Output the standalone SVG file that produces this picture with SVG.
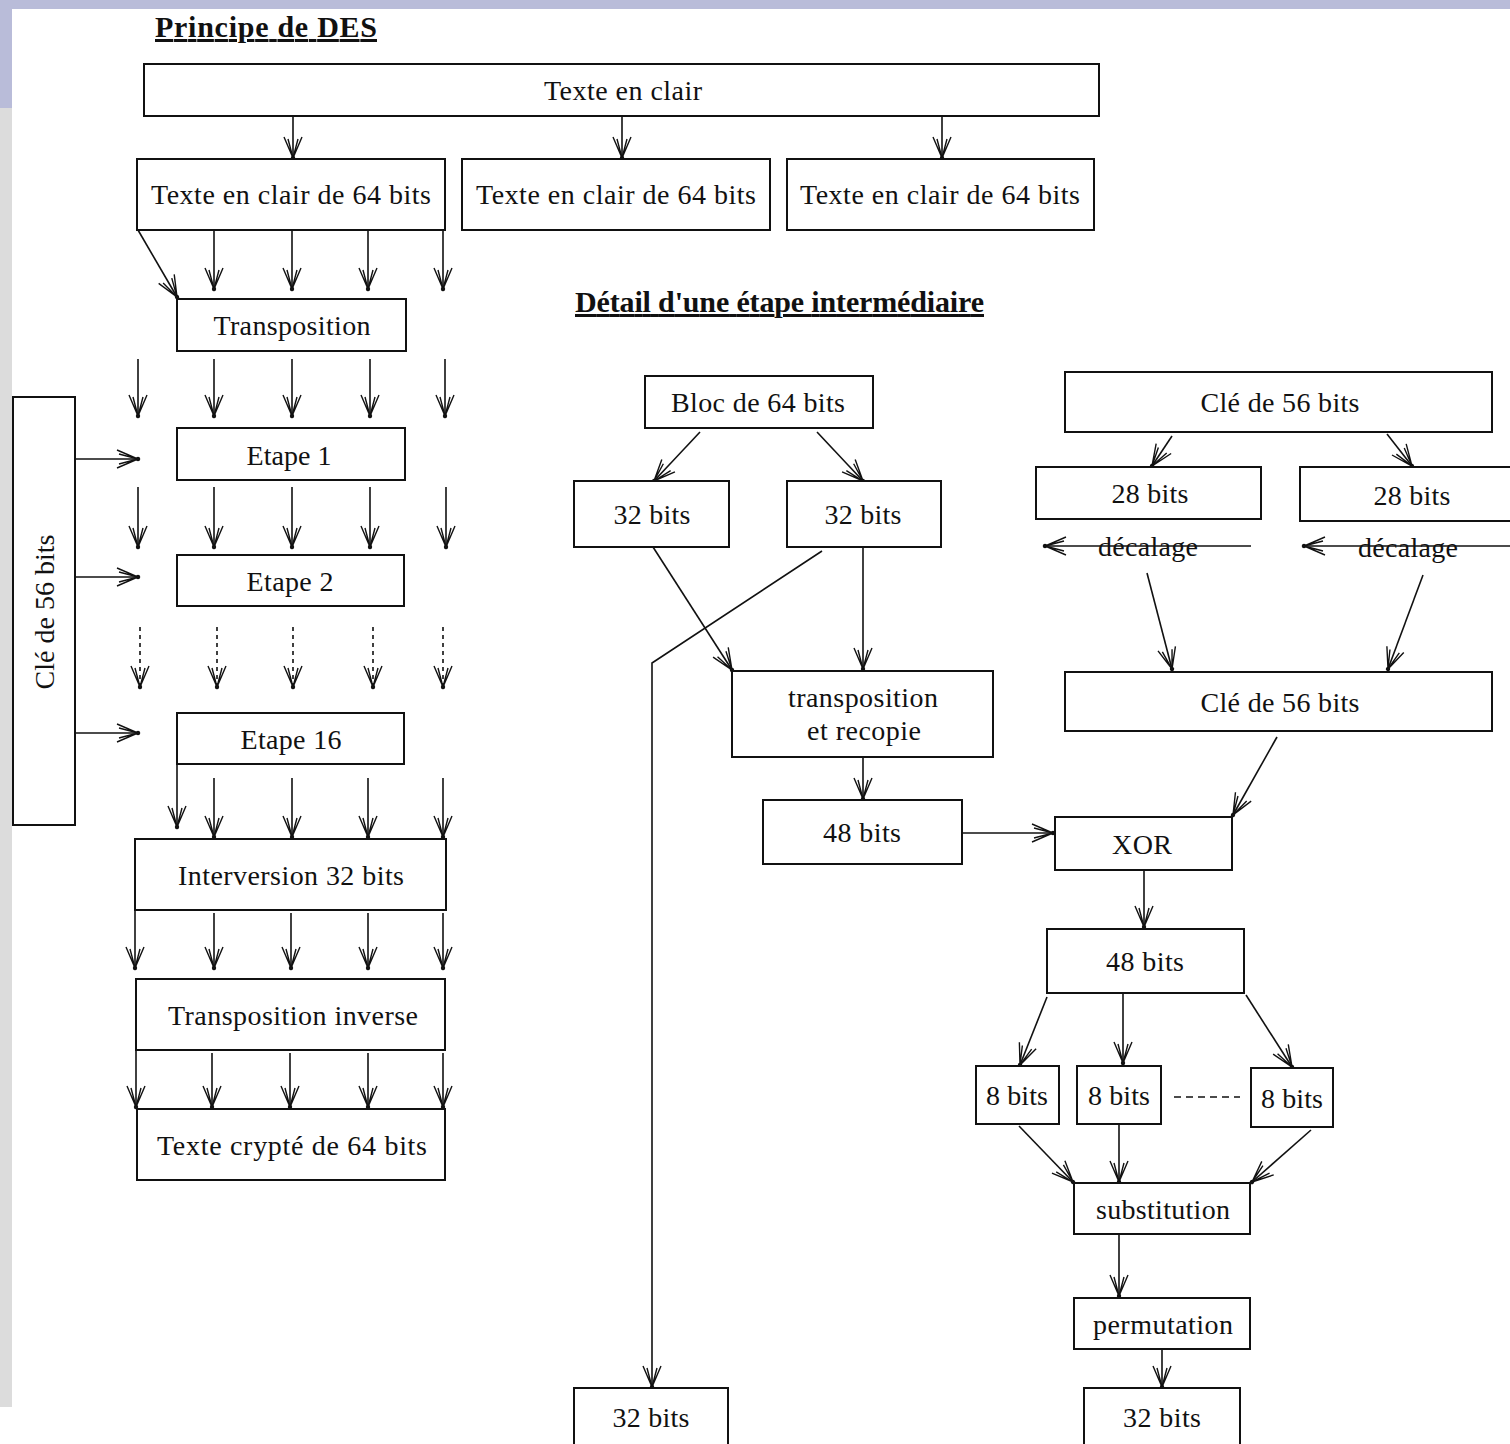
<svg xmlns="http://www.w3.org/2000/svg" width="1510" height="1444" viewBox="0 0 1510 1444">
<defs>
<style>
.bx{fill:#fff;stroke:#111;stroke-width:2}
.t{font-family:"Liberation Serif","Times New Roman",serif;font-size:28px;fill:#111;text-anchor:middle}
.h{font-family:"Liberation Serif","Times New Roman",serif;font-size:30px;font-weight:bold;fill:#111;text-decoration:underline}
.c line,.c path{stroke:#111;stroke-width:1.6;fill:none}
.c .m{marker-end:url(#a)}
.c .d{stroke-dasharray:4 4}
.c .d2{stroke-dasharray:7 5}
</style>
<marker id="a" viewBox="-24 -12 27 24" refX="0" refY="0" markerWidth="27" markerHeight="24" markerUnits="userSpaceOnUse" orient="auto">
<path d="M-21,-9 L0,0 L-21,9 M-19,-5 L0,0 L-19,5" fill="none" stroke="#111" stroke-width="1.4"/>
<circle r="2.2" fill="#111"/>
</marker>
</defs>
<rect x="0" y="0" width="1510" height="1444" fill="#fff"/>
<rect x="0" y="0" width="1510" height="9" fill="#b9bcd9"/>
<rect x="0" y="9" width="12" height="99" fill="#b9bcd9"/>
<rect x="0" y="108" width="12" height="1299" fill="#dcdcdc"/>

<text class="h" x="155" y="37" textLength="222">Principe de DES</text>
<text class="h" x="575" y="312" textLength="409">Détail d'une étape intermédiaire</text>

<g class="c">
<line class="m" x1="293" y1="116" x2="293" y2="158"/>
<line class="m" x1="622" y1="116" x2="622" y2="158"/>
<line class="m" x1="942" y1="116" x2="942" y2="158"/>
<line class="m" x1="138" y1="230" x2="177" y2="297"/>
<line class="m" x1="214" y1="230" x2="214" y2="289"/>
<line class="m" x1="292" y1="230" x2="292" y2="289"/>
<line class="m" x1="368" y1="230" x2="368" y2="289"/>
<line class="m" x1="443" y1="230" x2="443" y2="289"/>
<line class="m" x1="138" y1="359" x2="138" y2="416"/>
<line class="m" x1="214" y1="359" x2="214" y2="416"/>
<line class="m" x1="292" y1="359" x2="292" y2="416"/>
<line class="m" x1="370" y1="359" x2="370" y2="416"/>
<line class="m" x1="445" y1="359" x2="445" y2="416"/>
<line class="m" x1="138" y1="487" x2="138" y2="547"/>
<line class="m" x1="214" y1="487" x2="214" y2="547"/>
<line class="m" x1="292" y1="487" x2="292" y2="547"/>
<line class="m" x1="370" y1="487" x2="370" y2="547"/>
<line class="m" x1="446" y1="487" x2="446" y2="547"/>
<line class="m d" x1="140" y1="627" x2="140" y2="687"/>
<line class="m d" x1="217" y1="627" x2="217" y2="687"/>
<line class="m d" x1="293" y1="627" x2="293" y2="687"/>
<line class="m d" x1="373" y1="627" x2="373" y2="687"/>
<line class="m d" x1="443" y1="627" x2="443" y2="687"/>
<line class="m" x1="177" y1="764" x2="177" y2="827"/>
<line class="m" x1="214" y1="778" x2="214" y2="837"/>
<line class="m" x1="292" y1="778" x2="292" y2="837"/>
<line class="m" x1="368" y1="778" x2="368" y2="837"/>
<line class="m" x1="443" y1="778" x2="443" y2="837"/>
<line class="m" x1="135" y1="910" x2="135" y2="968"/>
<line class="m" x1="214" y1="913" x2="214" y2="968"/>
<line class="m" x1="291" y1="913" x2="291" y2="968"/>
<line class="m" x1="368" y1="913" x2="368" y2="968"/>
<line class="m" x1="443" y1="913" x2="443" y2="968"/>
<line class="m" x1="136" y1="1050" x2="136" y2="1107"/>
<line class="m" x1="212" y1="1053" x2="212" y2="1107"/>
<line class="m" x1="290" y1="1053" x2="290" y2="1107"/>
<line class="m" x1="368" y1="1053" x2="368" y2="1107"/>
<line class="m" x1="443" y1="1053" x2="443" y2="1107"/>
<line class="m" x1="75" y1="459" x2="138" y2="459"/>
<line class="m" x1="75" y1="577" x2="138" y2="577"/>
<line class="m" x1="75" y1="733" x2="138" y2="733"/>

<line class="m" x1="700" y1="432" x2="654" y2="481"/>
<line class="m" x1="817" y1="432" x2="863" y2="481"/>
<line class="m" x1="653" y1="547" x2="732" y2="670"/>
<line class="m" x1="863" y1="547" x2="863" y2="669"/>
<path class="m" d="M822,551 L652,663 L652,1387"/>
<line class="m" x1="863" y1="757" x2="863" y2="799"/>
<line class="m" x1="962" y1="833" x2="1053" y2="833"/>
<line class="m" x1="1172" y1="436" x2="1152" y2="466"/>
<line class="m" x1="1387" y1="434" x2="1412" y2="466"/>
<line class="m" x1="1251" y1="546" x2="1045" y2="546"/>
<line class="m" x1="1510" y1="546" x2="1304" y2="546"/>
<line class="m" x1="1147" y1="573" x2="1172" y2="669"/>
<line class="m" x1="1423" y1="575" x2="1388" y2="669"/>
<line class="m" x1="1277" y1="737" x2="1233" y2="815"/>
<line class="m" x1="1144" y1="870" x2="1144" y2="927"/>
<line class="m" x1="1047" y1="997" x2="1020" y2="1065"/>
<line class="m" x1="1123" y1="993" x2="1123" y2="1063"/>
<line class="m" x1="1246" y1="995" x2="1292" y2="1067"/>
<line class="d2" x1="1174" y1="1097" x2="1240" y2="1097"/>
<line class="m" x1="1019" y1="1126" x2="1073" y2="1182"/>
<line class="m" x1="1119" y1="1124" x2="1119" y2="1182"/>
<line class="m" x1="1311" y1="1130" x2="1252" y2="1182"/>
<line class="m" x1="1119" y1="1234" x2="1119" y2="1296"/>
<line class="m" x1="1162" y1="1349" x2="1162" y2="1387"/>
</g>

<g id="texte-clair"><rect class="bx" x="144" y="64" width="955" height="52"/><text class="t" x="623" y="100" textLength="158">Texte en clair</text></g>
<g id="bloc64-1"><rect class="bx" x="137" y="159" width="308" height="71"/><text class="t" x="291" y="204" textLength="280">Texte en clair de 64 bits</text></g>
<g id="bloc64-2"><rect class="bx" x="462" y="159" width="308" height="71"/><text class="t" x="616" y="204" textLength="280">Texte en clair de 64 bits</text></g>
<g id="bloc64-3"><rect class="bx" x="787" y="159" width="307" height="71"/><text class="t" x="940" y="204" textLength="280">Texte en clair de 64 bits</text></g>
<g id="transposition"><rect class="bx" x="177" y="299" width="229" height="52"/><text class="t" x="292" y="335" textLength="157">Transposition</text></g>
<g id="etape1"><rect class="bx" x="177" y="428" width="228" height="52"/><text class="t" x="289" y="465" textLength="85">Etape 1</text></g>
<g id="etape2"><rect class="bx" x="177" y="555" width="227" height="51"/><text class="t" x="290" y="591" textLength="87">Etape 2</text></g>
<g id="etape16"><rect class="bx" x="177" y="713" width="227" height="51"/><text class="t" x="291" y="749" textLength="101">Etape 16</text></g>
<g id="interversion"><rect class="bx" x="135" y="839" width="311" height="71"/><text class="t" x="291" y="885" textLength="226">Interversion 32 bits</text></g>
<g id="transposition-inverse"><rect class="bx" x="136" y="979" width="309" height="71"/><text class="t" x="293" y="1025" textLength="250">Transposition inverse</text></g>
<g id="texte-crypte"><rect class="bx" x="137" y="1109" width="308" height="71"/><text class="t" x="292" y="1155" textLength="270">Texte crypté de 64 bits</text></g>
<g id="cle-gauche"><rect class="bx" x="13" y="397" width="62" height="428"/><text class="t" transform="translate(54,612) rotate(-90)" x="0" y="0" textLength="155">Clé de 56 bits</text></g>

<g id="bloc64"><rect class="bx" x="645" y="376" width="228" height="52"/><text class="t" x="758" y="412" textLength="174">Bloc de 64 bits</text></g>
<g id="g32"><rect class="bx" x="574" y="481" width="155" height="66"/><text class="t" x="652" y="524" textLength="77">32 bits</text></g>
<g id="d32"><rect class="bx" x="787" y="481" width="154" height="66"/><text class="t" x="863" y="524" textLength="77">32 bits</text></g>
<g id="transp-recopie"><rect class="bx" x="732" y="671" width="261" height="86"/><text class="t" x="863" y="707" textLength="150">transposition</text><text class="t" x="864" y="740" textLength="114">et recopie</text></g>
<g id="b48a"><rect class="bx" x="763" y="800" width="199" height="64"/><text class="t" x="862" y="842" textLength="78">48 bits</text></g>
<g id="cle56a"><rect class="bx" x="1065" y="372" width="427" height="60"/><text class="t" x="1280" y="412" textLength="159">Clé de 56 bits</text></g>
<g id="b28a"><rect class="bx" x="1036" y="467" width="225" height="52"/><text class="t" x="1150" y="503" textLength="77">28 bits</text></g>
<g id="b28b"><rect class="bx" x="1300" y="467" width="220" height="54"/><text class="t" x="1412" y="505" textLength="77">28 bits</text></g>
<g id="decalage-a"><text class="t" x="1148" y="556" textLength="100">décalage</text></g>
<g id="decalage-b"><text class="t" x="1408" y="557" textLength="100">décalage</text></g>
<g id="cle56b"><rect class="bx" x="1065" y="672" width="427" height="59"/><text class="t" x="1280" y="712" textLength="159">Clé de 56 bits</text></g>
<g id="xor"><rect class="bx" x="1055" y="817" width="177" height="53"/><text class="t" x="1142" y="854" textLength="60">XOR</text></g>
<g id="b48b"><rect class="bx" x="1047" y="929" width="197" height="64"/><text class="t" x="1145" y="971" textLength="78">48 bits</text></g>
<g id="b8a"><rect class="bx" x="976" y="1066" width="83" height="58"/><text class="t" x="1017" y="1105" textLength="62">8 bits</text></g>
<g id="b8b"><rect class="bx" x="1077" y="1066" width="84" height="58"/><text class="t" x="1119" y="1105" textLength="62">8 bits</text></g>
<g id="b8c"><rect class="bx" x="1251" y="1068" width="82" height="59"/><text class="t" x="1292" y="1108" textLength="62">8 bits</text></g>
<g id="substitution"><rect class="bx" x="1074" y="1183" width="176" height="51"/><text class="t" x="1163" y="1219" textLength="134">substitution</text></g>
<g id="permutation"><rect class="bx" x="1074" y="1298" width="176" height="51"/><text class="t" x="1163" y="1334" textLength="140">permutation</text></g>
<g id="b32c"><rect class="bx" x="1084" y="1388" width="156" height="70"/><text class="t" x="1162" y="1427" textLength="78">32 bits</text></g>
<g id="b32d"><rect class="bx" x="574" y="1388" width="154" height="70"/><text class="t" x="651" y="1427" textLength="77">32 bits</text></g>
</svg>
